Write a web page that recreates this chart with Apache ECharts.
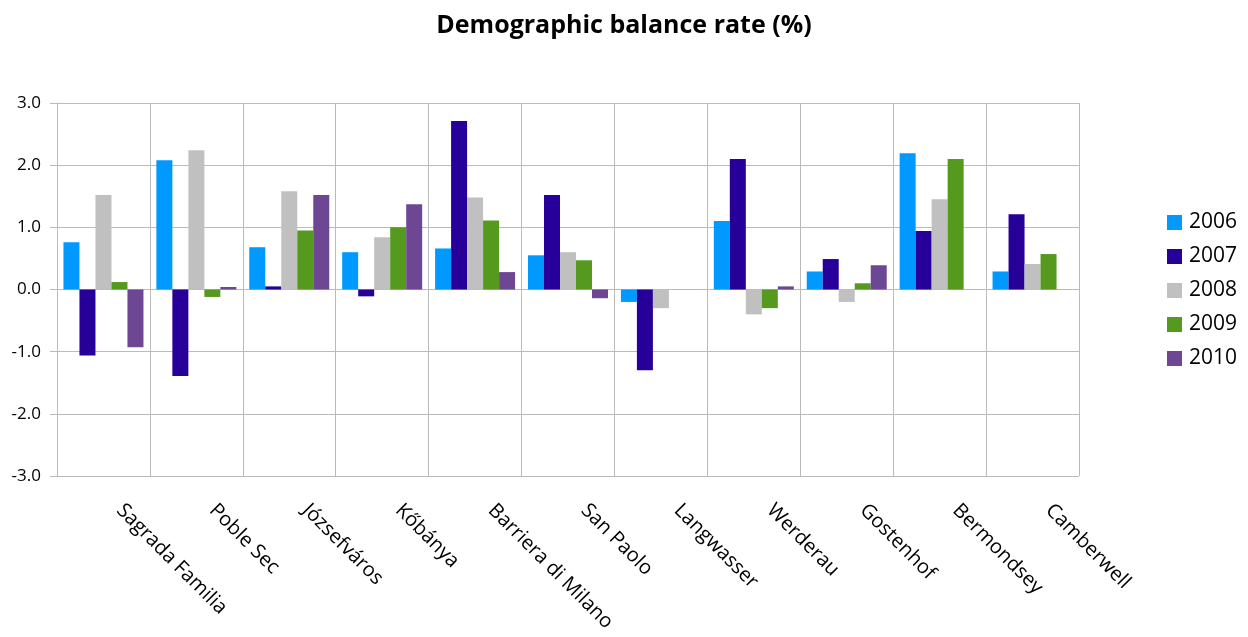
<!DOCTYPE html>
<html>
<head>
<meta charset="utf-8">
<title>Demographic balance rate (%)</title>
<script src="https://cdn.jsdelivr.net/npm/echarts@6/dist/echarts.min.js"></script>
<style>
  html, body { margin: 0; padding: 0; background: #ffffff; }
  #chart { width: 1248px; height: 637px; }
</style>
</head>
<body>
<div id="chart"></div>
<script>
// Neighbourhoods on the category axis
const districts = [
  'Sagrada Familia', 'Poble Sec', 'Józsefváros', 'Kőbánya', 'Barriera di Milano',
  'San Paolo', 'Langwasser', 'Werderau', 'Gostenhof', 'Bermondsey', 'Camberwell'
];

// Yearly demographic balance rate (%) per neighbourhood; null = no figure
const rate2006 = [0.76, 2.08, 0.68, 0.60, 0.66, 0.55, -0.20, 1.10, 0.29, 2.19, 0.29];
const rate2007 = [-1.06, -1.39, 0.05, -0.11, 2.71, 1.52, -1.30, 2.10, 0.49, 0.94, 1.21];
const rate2008 = [1.52, 2.24, 1.58, 0.84, 1.48, 0.60, -0.30, -0.40, -0.20, 1.45, 0.41];
const rate2009 = [0.12, -0.12, 0.95, 1.00, 1.11, 0.47, null, -0.30, 0.10, 2.10, 0.57];
const rate2010 = [-0.93, 0.04, 1.52, 1.37, 0.28, -0.14, null, 0.05, 0.39, null, null];

const years = ['2006', '2007', '2008', '2009', '2010'];
const yearColors = ['#0099FF', '#260099', '#C0C0C0', '#559A1F', '#6E4794'];

// Value axis ticks
const yMin = -3, yMax = 3, yStep = 1;

const seriesData = [rate2006, rate2007, rate2008, rate2009, rate2010];
const gridGrey = '#BBBBBB';
const font = '"Open Sans", Lato, "DejaVu Sans", sans-serif';

const chart = echarts.init(document.getElementById('chart'), null, { renderer: 'canvas' });

chart.setOption({
  animation: false,
  backgroundColor: '#ffffff',
  color: yearColors,
  title: {
    text: 'Demographic balance rate (%)',
    left: 'center',
    top: 8,
    textStyle: { fontFamily: font, fontSize: 25, fontWeight: 'bold', color: '#000' }
  },
  legend: {
    orient: 'vertical',
    left: 1167,
    top: 212,
    padding: 0,
    itemWidth: 15,
    itemHeight: 15,
    itemGap: 13,
    icon: 'rect',
    data: years,
    textStyle: { fontFamily: font, fontSize: 21, color: '#000', padding: [0, 0, 0, 2] }
  },
  grid: { left: 57, right: 169, top: 103, bottom: 161, containLabel: false },
  xAxis: [
    {
      // zero line with boundary ticks and category gridlines
      type: 'category',
      data: districts,
      position: 'bottom',
      axisLine: { show: true, onZero: true, lineStyle: { color: gridGrey, width: 1 } },
      axisTick: { show: true, interval: 0, length: 7, lineStyle: { color: gridGrey } },
      axisLabel: { show: false, interval: 0 },
      splitLine: { show: true, interval: 0, lineStyle: { color: gridGrey, width: 1 } }
    },
    {
      // category names along the bottom of the plot
      type: 'category',
      data: districts,
      position: 'bottom',
      axisLine: { show: false, onZero: false },
      axisTick: { show: false },
      splitLine: { show: false },
      axisLabel: {
        show: true,
        interval: 0,
        rotate: -45,
        margin: 15,
        padding: [0, 0, 0, 23],
        fontFamily: font,
        fontSize: 20,
        color: '#000'
      }
    }
  ],
  yAxis: {
    type: 'value',
    min: yMin,
    max: yMax,
    interval: yStep,
    axisLine: { show: true, lineStyle: { color: gridGrey } },
    axisTick: { show: true, length: 7, lineStyle: { color: gridGrey } },
    axisLabel: {
      fontFamily: font,
      fontSize: 17,
      color: '#000',
      margin: 16,
      formatter: v => v.toFixed(1)
    },
    splitLine: { show: true, lineStyle: { color: gridGrey, width: 1 } }
  },
  series: years.map((y, i) => ({
    name: y,
    type: 'bar',
    xAxisIndex: 0,
    data: seriesData[i],
    barWidth: 16,
    barGap: '0%',
    itemStyle: { color: yearColors[i] }
  }))
});
</script>
</body>
</html>
